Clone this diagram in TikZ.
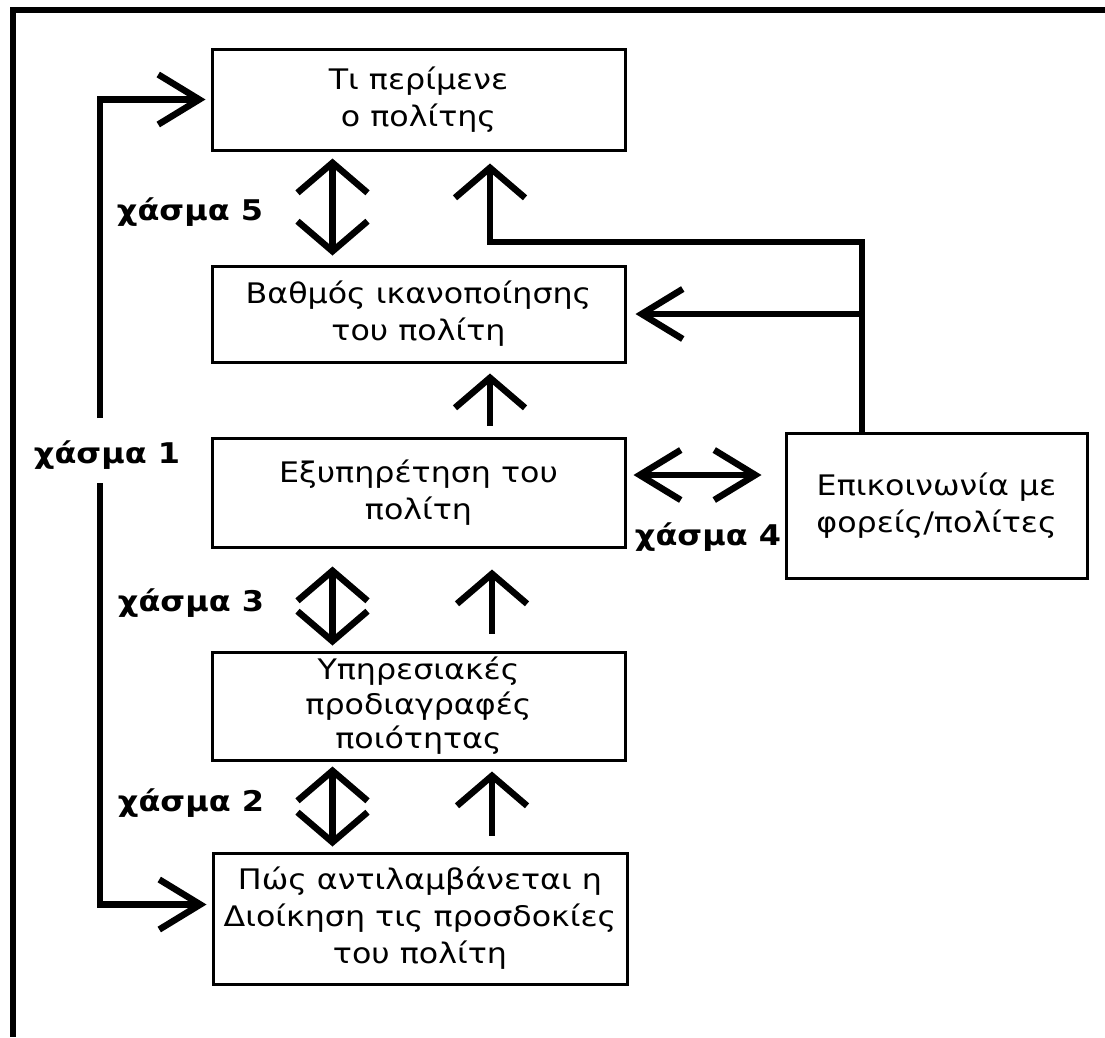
\documentclass[tikz,border=0pt]{standalone}
\usepackage{fontspec}
\setmainfont{DejaVu Sans}
\newfontfamily\boxfnt[FakeStretch=1.12]{DejaVu Sans}
\usetikzlibrary{arrows.meta,calc}
\begin{document}
\begin{tikzpicture}[x=1pt,y=-1pt,
  box/.style={draw, line width=3pt, align=center, inner sep=0pt,
    font=\boxfnt\fontsize{28.3}{37}\selectfont},
  tight/.style={font=\boxfnt\fontsize{28.3}{34.5}\selectfont},
  gaplbl/.style={inner sep=0pt, font=\boxfnt\bfseries\fontsize{28.5}{32}\selectfont},
  conn/.style={line width=6.5pt, line join=miter},
  vtip/.tip={Straight Barb[length=30pt,width=70pt,line width=6.5pt]},
  htip/.tip={Straight Barb[length=41pt,width=50pt,line width=6.5pt]},
  frame/.style={line width=6pt, line join=miter}
]
\useasboundingbox (0,0) rectangle (1105,1037);
\fill[white] (0,0) rectangle (1105,1037);
% frame
\draw[frame] (1105,10) -- (12.5,10) -- (12.5,1037);

% boxes
\node[box, minimum width=413pt, minimum height=101pt] (b1) at (418.5,99.5) {Τι περίμενε\\ο πολίτης};
\node[box, minimum width=413pt, minimum height=96pt] (b2) at (418.5,314) {Βαθμός ικανοποίησης\\του πολίτη};
\node[box, minimum width=413pt, minimum height=109pt] (b3) at (418.5,492.5) {Εξυπηρέτηση του\\πολίτη};
\node[box, minimum width=301pt, minimum height=145pt] (b4) at (936.5,505.5) {Επικοινωνία με\\φορείς/πολίτες};
\node[box, tight, minimum width=413pt, minimum height=108pt] (b5) at (418.5,706) {Υπηρεσιακές\\προδιαγραφές\\ποιότητας};
\node[box, minimum width=414pt, minimum height=131pt] (b6) at (420,918.5) {Πώς αντιλαμβάνεται η\\Διοίκηση τις προσδοκίες\\του πολίτη};

% labels
\node[gaplbl] (l5) at (190,212) {χάσμα 5};
\node[gaplbl] (l1) at (107,455) {χάσμα 1};
\node[gaplbl] (l3) at (191,603) {χάσμα 3};
\node[gaplbl] (l2) at (191,803) {χάσμα 2};
\node[gaplbl] (l4) at (708,537) {χάσμα 4};

% helper coordinates
\coordinate (xa) at (332.5,0);
\coordinate (xb) at (490,0);
\coordinate (xc) at (492,0);
\coordinate (xr) at (862,0);
\coordinate (xl) at (100,0);
\coordinate (yt) at (0,242);
\coordinate (ya) at (0,475);
\coordinate (g1t) at (100,418);
\coordinate (g1b) at (100,483);
\coordinate (b6w) at ([yshift=14pt]b6.west);

% gap 5
\draw[conn, vtip-vtip, shorten <=7pt, shorten >=9pt] (b1.south -| xa) -- (b2.north -| xa);
% communication to b1
\draw[conn, -vtip, shorten >=12pt] (b4.north -| xr) -- (xr |- yt) -- (xb |- yt) -- (b1.south -| xb);
% communication to b2
\draw[conn, -htip, shorten >=9pt] (xr |- b2.east) -- (b2.east);
% b3 -> b2
\draw[conn, -vtip, shorten <=11pt, shorten >=10pt] (b3.north -| xb) -- (b2.south -| xb);
% gap 4
\draw[conn, htip-htip, shorten <=7pt, shorten >=23pt] (b3.east |- ya) -- (b4.west |- ya);
% gap 3
\draw[conn, vtip-vtip, shorten <=18pt, shorten >=5pt] (b3.south -| xa) -- (b5.north -| xa);
% b5 -> b3
\draw[conn, -vtip, shorten <=17pt, shorten >=21pt] (b5.north -| xc) -- (b3.south -| xc);
% gap 2
\draw[conn, vtip-vtip, shorten <=5pt, shorten >=5pt] (b5.south -| xa) -- (b6.north -| xa);
% b6 -> b5
\draw[conn, -vtip, shorten <=16pt, shorten >=10pt] (b6.north -| xc) -- (b5.south -| xc);
% gap 1
\draw[conn, -htip, shorten >=5pt] (g1t) -- (xl |- b1.west) -- (b1.west);
\draw[conn, -htip, shorten >=5pt] (g1b) -- (xl |- b6w) -- (b6w);
\end{tikzpicture}
\end{document}
